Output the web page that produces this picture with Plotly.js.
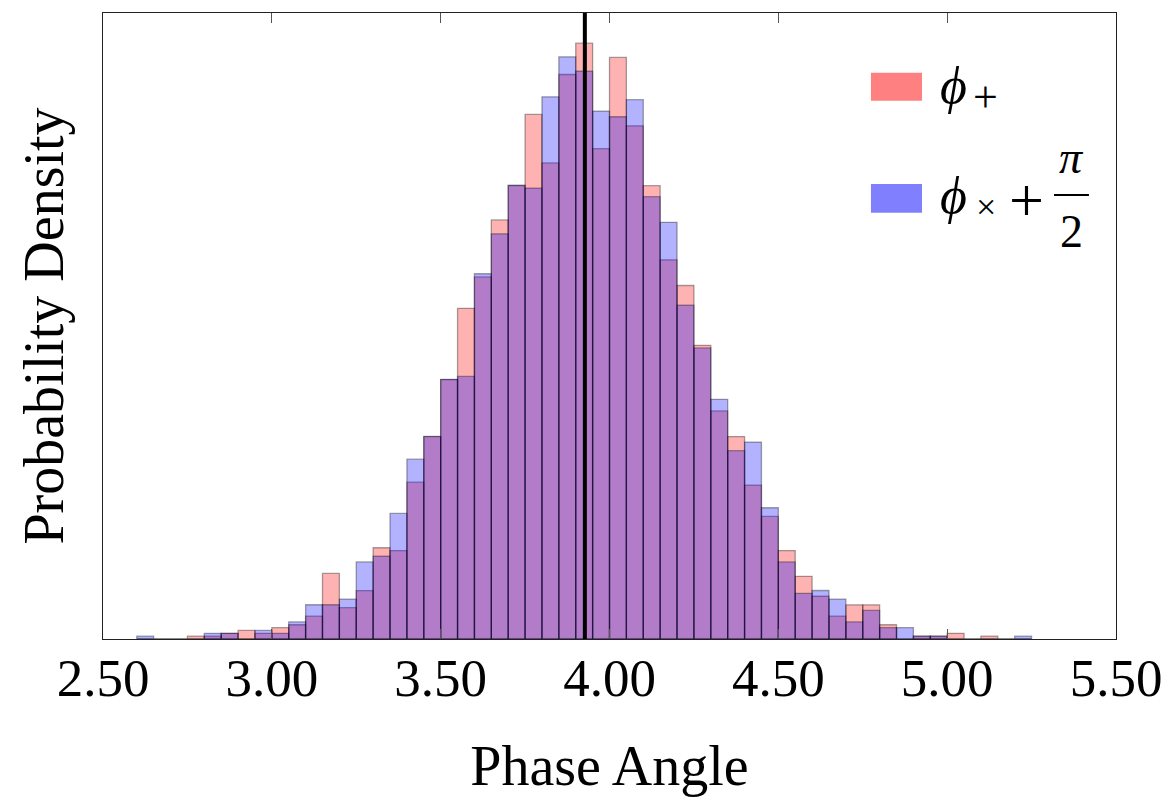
<!DOCTYPE html>
<html>
<head>
<meta charset="utf-8">
<script src="https://cdn.plot.ly/plotly-3.0.1.min.js"></script>
<style>
  html, body { margin: 0; padding: 0; background: #fff; }
  #chart { width: 1173px; height: 800px; }
</style>
</head>
<body>
<div id="chart"></div>
<script>
// ---- data ----
const BIN_WIDTH = 0.05;
const BIN_LEFT = [2.60, 2.65, 2.70, 2.75, 2.80, 2.85, 2.90, 2.95, 3.00, 3.05,
                  3.10, 3.15, 3.20, 3.25, 3.30, 3.35, 3.40, 3.45, 3.50, 3.55,
                  3.60, 3.65, 3.70, 3.75, 3.80, 3.85, 3.90, 3.95, 4.00, 4.05,
                  4.10, 4.15, 4.20, 4.25, 4.30, 4.35, 4.40, 4.45, 4.50, 4.55,
                  4.60, 4.65, 4.70, 4.75, 4.80, 4.85, 4.90, 4.95, 5.00, 5.05,
                  5.10, 5.15, 5.20];
const COUNTS_PLUS = [0, 0, 0, 1, 1, 2, 3, 2, 4, 5,
                     8, 23, 11, 17, 32, 31, 55, 71, 91, 116,
                     127, 147, 159, 184, 167, 198, 209, 172, 204, 180,
                     159, 133, 124, 103, 80, 71, 54, 43, 31, 22,
                     15, 8, 12, 12, 5, 0, 1, 1, 2, 0,
                     1, 0, 0];
const COUNTS_CROSS = [1, 0, 0, 0, 2, 2, 0, 3, 2, 6,
                      12, 12, 14, 27, 29, 44, 63, 71, 91, 92,
                      128, 142, 159, 158, 190, 204, 199, 185, 183, 189,
                      155, 146, 117, 102, 84, 66, 69, 46, 27, 16,
                      17, 14, 6, 10, 4, 4, 1, 1, 0, 0,
                      0, 0, 1];
const MARKER_X = 3.927;           // vertical reference line (5π/4)
const X_TICKS = [2.5, 3.0, 3.5, 4.0, 4.5, 5.0, 5.5];
const X_TICK_TEXT = ["2.50", "3.00", "3.50", "4.00", "4.50", "5.00", "5.50"];
const Y_TOP = 1.418;

// ---- build ----
function toDensity(counts) {
  const n = counts.reduce((a, b) => a + b, 0);
  return counts.map(c => c / (n * BIN_WIDTH));
}
const centers = BIN_LEFT.map(v => v + BIN_WIDTH / 2);
const FONT = "'Liberation Serif', 'DejaVu Serif', serif";

const tracePlus = {
  type: "bar", x: centers, y: toDensity(COUNTS_PLUS), width: BIN_WIDTH,
  name: "φ+", showlegend: false, hoverinfo: "skip",
  marker: { color: "rgba(255,0,0,0.3)", line: { color: "rgba(0,0,0,0.35)", width: 1.3 } }
};
const traceCross = {
  type: "bar", x: centers, y: toDensity(COUNTS_CROSS), width: BIN_WIDTH,
  name: "φ× + π/2", showlegend: false, hoverinfo: "skip",
  marker: { color: "rgba(0,0,255,0.3)", line: { color: "rgba(0,0,0,0.35)", width: 1.3 } }
};

function ann(x, y, text, size, xanchor) {
  return { xref: "paper", yref: "paper", x: x, y: y, xanchor: xanchor || "center", yanchor: "middle",
           text: text, showarrow: false, font: { family: FONT, size: size, color: "#000" } };
}

const layout = {
  width: 1173, height: 800,
  margin: { l: 103, r: 57, t: 13, b: 161, pad: 0 },
  paper_bgcolor: "#fff", plot_bgcolor: "#fff",
  barmode: "overlay", bargap: 0,
  showlegend: false,
  font: { family: FONT, color: "#000" },
  xaxis: {
    range: [2.5, 5.5], tickmode: "array", tickvals: X_TICKS, ticktext: X_TICK_TEXT,
    ticks: "inside", ticklen: 10, tickwidth: 1, tickcolor: "#555",
    showline: true, linecolor: "#222", linewidth: 1, mirror: "ticks",
    showgrid: false, zeroline: false, automargin: false,
    ticklabelstandoff: -8,
    tickfont: { family: FONT, size: 53, color: "#000" },
    title: { text: "Phase Angle", font: { family: FONT, size: 56, color: "#000" }, standoff: 40 }
  },
  yaxis: {
    range: [0, Y_TOP], showticklabels: false, ticks: "",
    showline: true, linecolor: "#222", linewidth: 1, mirror: true,
    showgrid: false, zeroline: false, automargin: false,
    title: { text: "Probability Density", font: { family: FONT, size: 56, color: "#000" }, standoff: 20 }
  },
  shapes: [
    { type: "line", xref: "x", yref: "paper", x0: MARKER_X, x1: MARKER_X, y0: 0, y1: 1,
      line: { color: "#000", width: 4 }, layer: "above" },
    // legend patches
    { type: "rect", xref: "paper", yref: "paper", x0: 0.7581, x1: 0.8085, y0: 0.8599, y1: 0.9046,
      fillcolor: "#ff8080", line: { width: 0 } },
    { type: "rect", xref: "paper", yref: "paper", x0: 0.7581, x1: 0.8085, y0: 0.6810, y1: 0.7268,
      fillcolor: "#8080ff", line: { width: 0 } },
    // fraction bar of π/2
    { type: "line", xref: "paper", yref: "paper", x0: 0.9388, x1: 0.9733, y0: 0.7093, y1: 0.7093,
      line: { color: "#000", width: 2 } }
  ],
  annotations: [
    ann(0.8243, 0.8842, "<i>ϕ</i>", 52, "left"),
    ann(0.8707, 0.8650, "+", 44),
    ann(0.8243, 0.7077, "<i>ϕ</i>", 52, "left"),
    ann(0.8712, 0.6906, "×", 36),
    ann(0.9116, 0.7013, "+", 62),
    ann(0.9563, 0.7684, "<i>π</i>", 46),
    ann(0.9563, 0.6506, "2", 46)
  ]
};

Plotly.newPlot("chart", [tracePlus, traceCross], layout, { staticPlot: true, displayModeBar: false });
</script>
</body>
</html>
